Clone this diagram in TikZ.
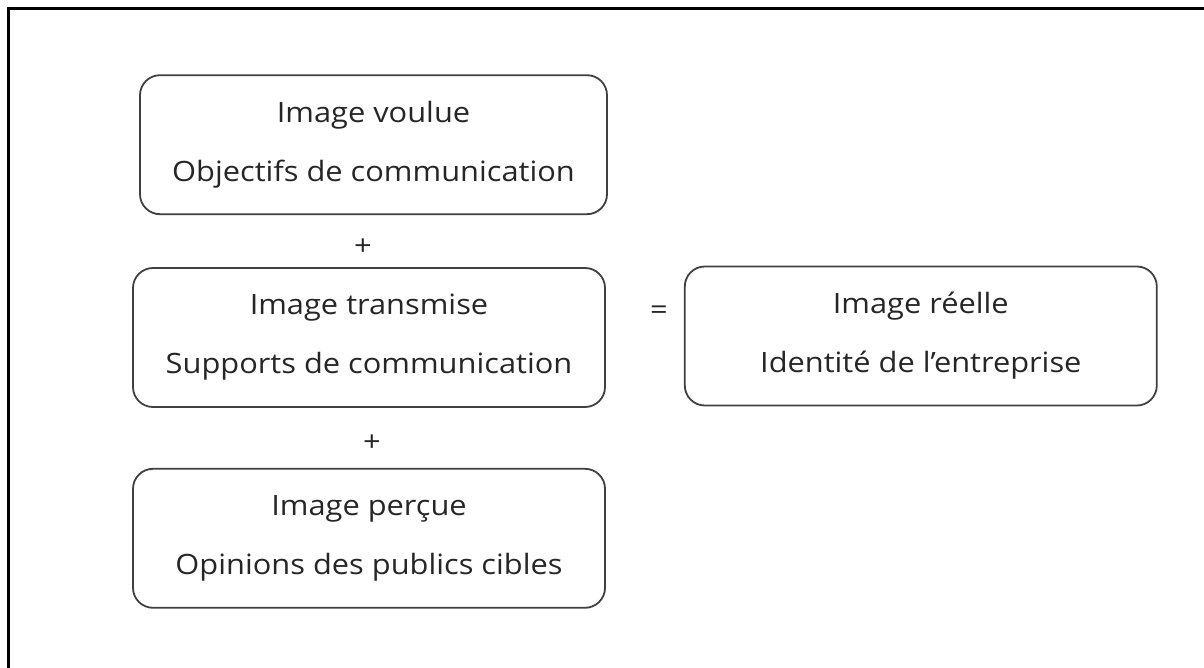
\documentclass[tikz,border=0pt]{standalone}
\usepackage{fontspec}
\setmainfont{Open Sans}[FakeStretch=1.1]
\usetikzlibrary{positioning}

\begin{document}
\begin{tikzpicture}[x=1pt,y=-1pt,node distance=52pt,
	every node/.style={text=black!85, font=\fontsize{28}{59}\selectfont},
	boite/.style={draw=black!75, line width=1.8pt, rounded corners=20pt, minimum width=472pt, minimum height=139pt, align=center}]
	\useasboundingbox (0,0) rectangle (1204,668);
	\draw[line width=3pt] (8,668) -- (8,9) -- (1204,9);

	\node[boite] (T) at (369,337.5) {Image transmise\\Supports de communication};
	\node[boite, minimum width=467pt, above=of T, xshift=4.5pt] (V) {Image voulue\\Objectifs de communication};
	\node[boite, right=78pt of T, yshift=1.5pt] (R) {Image réelle\\Identité de l’entreprise};
	\node[boite, below=60pt of T] (P) {Image perçue\\Opinions des publics cibles};

	\node (plus1) at (363,247) {+};
	\node (plus2) at (372,443) {+};
	\node (egal) at (659,313) {=};
\end{tikzpicture}
\end{document}
